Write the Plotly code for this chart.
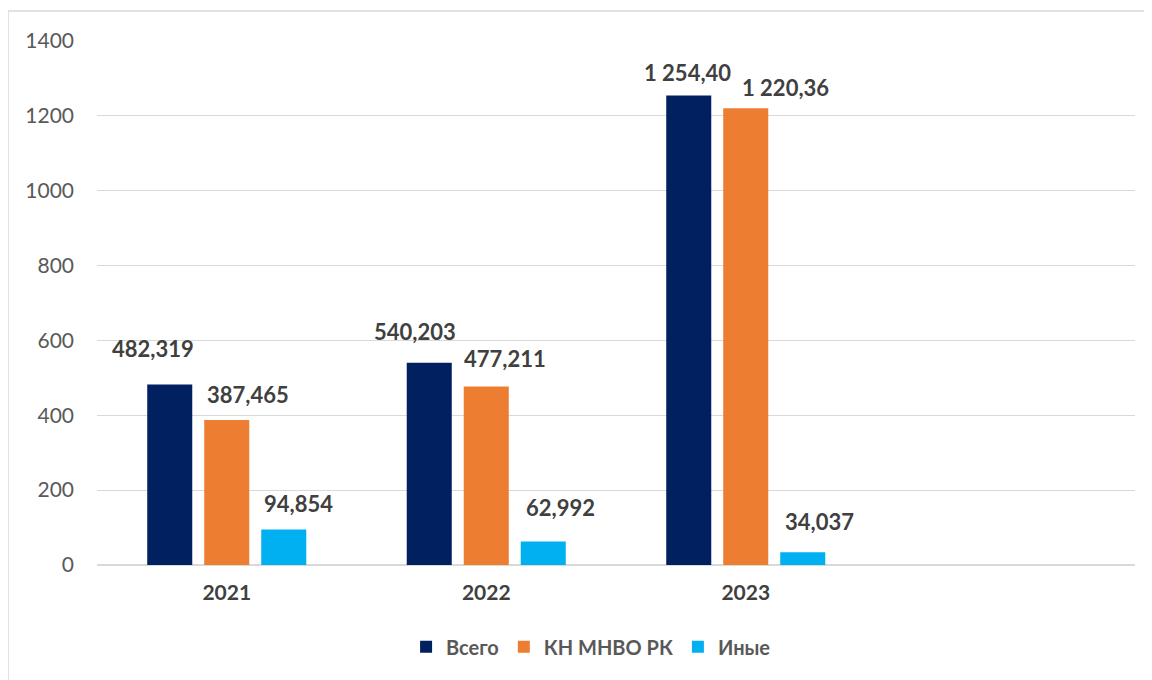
import plotly.graph_objects as go

categories = ["2021", "2022", "2023"]
series_names = ["Всего", "КН МНВО РК", "Иные"]
values = {
    "Всего": [482.319, 540.203, 1254.40],
    "КН МНВО РК": [387.465, 477.211, 1220.36],
    "Иные": [94.854, 62.992, 34.037],
}
labels = {
    "Всего": ["482,319", "540,203", "1 254,40"],
    "КН МНВО РК": ["387,465", "477,211", "1 220,36"],
    "Иные": ["94,854", "62,992", "34,037"],
}
colors = {"Всего": "#002060", "КН МНВО РК": "#ED7D31", "Иные": "#00B0F0"}

# label placement offsets (pixels) relative to bar top centre
bar_shift = {"Всего": -57, "КН МНВО РК": 0, "Иные": 57}
label_dx = {"Всего": [-17, -14, -1], "КН МНВО РК": [21, 19, 40], "Иные": [15, 17, 17]}
label_dy = {"Всего": [36, 31, 23], "КН МНВО РК": [25, 28, 21], "Иные": [26, 34, 31]}

FONT = "Lato, 'Open Sans', sans-serif"

fig = go.Figure()
for name in series_names:
    fig.add_trace(go.Bar(
        x=categories, y=values[name], name=name,
        marker=dict(color=colors[name], line=dict(width=0)),
    ))
    for i, c in enumerate(categories):
        fig.add_annotation(
            x=i, y=values[name][i], xref="x", yref="y",
            text="<b>" + labels[name][i] + "</b>", showarrow=False,
            xanchor="center", yanchor="middle",
            xshift=bar_shift[name] + label_dx[name][i], yshift=label_dy[name][i],
            font=dict(family=FONT, size=22, color="#404040"),
        )

fig.add_shape(type="rect", xref="paper", yref="paper",
              x0=(8 - 97) / 1038, x1=(1170 - 97) / 1038,
              y0=(565 - 700) / 524, y1=(565 - 11) / 524,
              line=dict(color="#D9D9D9", width=1.5), fillcolor="rgba(0,0,0,0)", layer="below")

fig.update_layout(
    width=1144, height=672,
    margin=dict(l=89, r=17, t=33, b=115),
    paper_bgcolor="white", plot_bgcolor="white",
    barmode="group", bargap=0.341, bargroupgap=0.21,
    showlegend=True,
    legend=dict(orientation="h", x=0.476, xanchor="center", y=-0.156, yanchor="middle",
                font=dict(family=FONT, size=20, color="#595959", weight="bold"),
                itemsizing="constant", traceorder="normal", itemwidth=30),
    font=dict(family=FONT),
    xaxis=dict(type="category", range=[-0.5, 3.5], showgrid=False, showline=False,
               ticks="", tickfont=dict(family=FONT, size=21, color="#404040", weight="bold"),
               ticklabelstandoff=13),
    yaxis=dict(range=[0, 1400], dtick=200, showgrid=True, gridcolor="#D9D9D9", gridwidth=1.3,
               zeroline=True, zerolinecolor="#D9D9D9", zerolinewidth=1.5,
               showline=False, ticks="", tickformat="d",
               tickfont=dict(family=FONT, size=21, color="#595959"),
               ticklabelstandoff=22),
)

fig.write_html("out.html")
